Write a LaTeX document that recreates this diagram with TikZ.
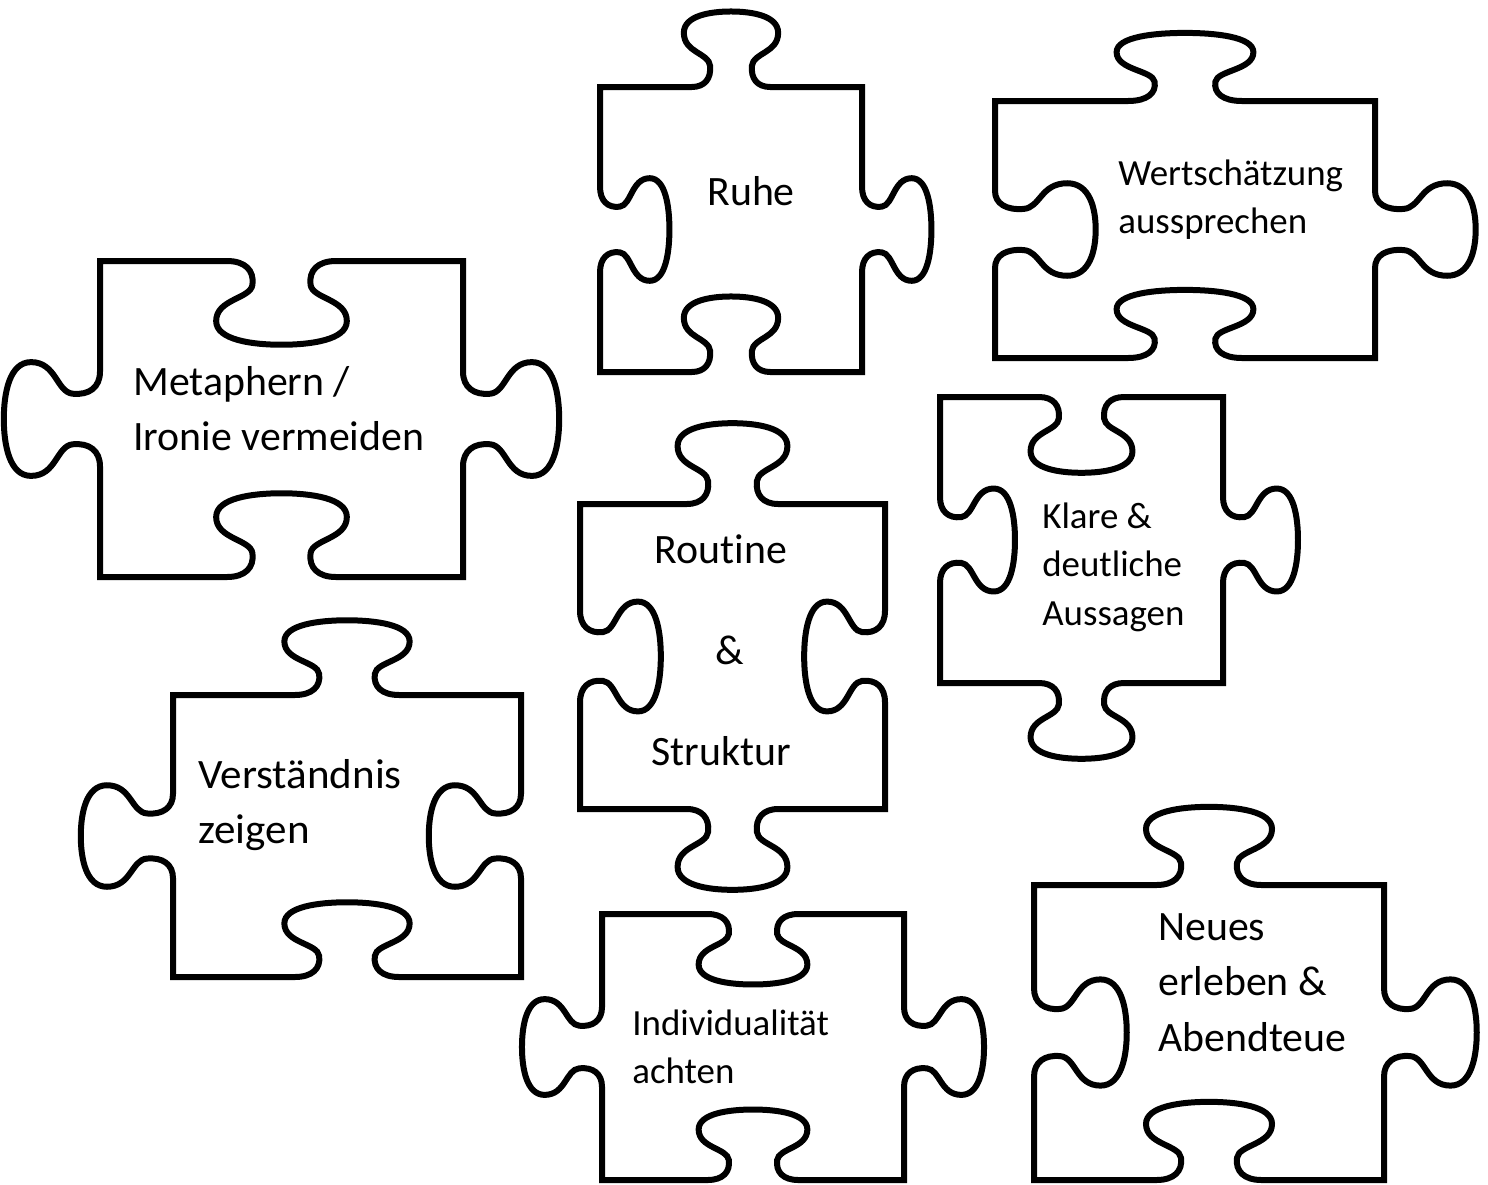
\documentclass[tikz,border=0pt]{standalone}
\usepackage{fontspec}
\setmainfont{Carlito}[Ligatures=NoCommon]
\usepackage{tikz}

\tikzset{
  piece/.style={line width=0.12cm,black},
  bigword/.style={font=\fontsize{23.8}{31.7}\selectfont,inner sep=0pt},
  smallword/.style={font=\fontsize{21}{27.8}\selectfont,inner sep=0pt}
}

\newcommand{\puzzlepiece}[8]{%
  \begin{scope}[shift={(#1,#2)},xscale=#3,yscale=#4]
  \pgfmathsetmacro{\ft}{-(#5)}
  \pgfmathsetmacro{\fr}{#6}
  \pgfmathsetmacro{\fb}{#7}
  \pgfmathsetmacro{\fl}{-(#8)}
  \draw[piece] (0,0) -- (0.35,0)
    .. controls (0.40,0) and (0.425,{0.03*\ft}) .. (0.42,{0.075*\ft})
    .. controls (0.415,{0.12*\ft}) and (0.32,{0.12*\ft}) .. (0.32,{0.19*\ft})
    .. controls (0.32,{0.25*\ft}) and (0.42,{0.265*\ft}) .. (0.5,{0.265*\ft})
    .. controls (0.58,{0.265*\ft}) and (0.68,{0.25*\ft}) .. (0.68,{0.19*\ft})
    .. controls (0.68,{0.12*\ft}) and (0.585,{0.12*\ft}) .. (0.58,{0.075*\ft})
    .. controls (0.575,{0.03*\ft}) and (0.60,0) .. (0.65,0)
    -- (1,0) -- (1,0.35)
    .. controls (1,0.40) and ({1+0.03*\fr},0.425) .. ({1+0.075*\fr},0.42)
    .. controls ({1+0.12*\fr},0.415) and ({1+0.12*\fr},0.32) .. ({1+0.19*\fr},0.32)
    .. controls ({1+0.25*\fr},0.32) and ({1+0.265*\fr},0.42) .. ({1+0.265*\fr},0.5)
    .. controls ({1+0.265*\fr},0.58) and ({1+0.25*\fr},0.68) .. ({1+0.19*\fr},0.68)
    .. controls ({1+0.12*\fr},0.68) and ({1+0.12*\fr},0.585) .. ({1+0.075*\fr},0.58)
    .. controls ({1+0.03*\fr},0.575) and (1,0.60) .. (1,0.65)
    -- (1,1) -- (0.65,1)
    .. controls (0.60,1) and (0.575,{1+0.03*\fb}) .. (0.58,{1+0.075*\fb})
    .. controls (0.585,{1+0.12*\fb}) and (0.68,{1+0.12*\fb}) .. (0.68,{1+0.19*\fb})
    .. controls (0.68,{1+0.25*\fb}) and (0.58,{1+0.265*\fb}) .. (0.5,{1+0.265*\fb})
    .. controls (0.42,{1+0.265*\fb}) and (0.32,{1+0.25*\fb}) .. (0.32,{1+0.19*\fb})
    .. controls (0.32,{1+0.12*\fb}) and (0.415,{1+0.12*\fb}) .. (0.42,{1+0.075*\fb})
    .. controls (0.425,{1+0.03*\fb}) and (0.40,1) .. (0.35,1)
    -- (0,1) -- (0,0.65)
    .. controls (0,0.60) and ({0.03*\fl},0.575) .. ({0.075*\fl},0.58)
    .. controls ({0.12*\fl},0.585) and ({0.12*\fl},0.68) .. ({0.19*\fl},0.68)
    .. controls ({0.25*\fl},0.68) and ({0.265*\fl},0.58) .. ({0.265*\fl},0.5)
    .. controls ({0.265*\fl},0.42) and ({0.25*\fl},0.32) .. ({0.19*\fl},0.32)
    .. controls ({0.12*\fl},0.32) and ({0.12*\fl},0.415) .. ({0.075*\fl},0.42)
    .. controls ({0.03*\fl},0.425) and (0,0.40) .. (0,0.35)
    -- cycle;
  \end{scope}}

\begin{document}
\begin{tikzpicture}[x=0.02cm,y=-0.02cm]
\useasboundingbox (0,0) rectangle (1488,1184);

\puzzlepiece{600}{87}{262}{285}{1}{1}{-1}{-1}
\puzzlepiece{995}{101}{380}{257}{1}{1}{-1}{-1}
\puzzlepiece{100}{261}{363}{316}{-1}{1}{-1}{1}
\puzzlepiece{580}{504}{305}{305}{1}{-1}{1}{-1}
\puzzlepiece{940}{397}{283}{286}{-1}{1}{1}{-1}
\puzzlepiece{173}{695}{348}{282}{1}{-1}{-1}{1}
\puzzlepiece{602}{914}{302}{266}{-1}{1}{-1}{1}
\puzzlepiece{1034}{885}{350}{295}{1}{1}{-1}{-1}

\node[bigword,anchor=base west] (ruhe) at (707,205) {Ruhe};
\node[smallword,anchor=base west] (wert) at (1118,185) {\begin{tabular}[t]{@{}l@{}}Wertschätzung\\aussprechen\end{tabular}};
\node[bigword,anchor=base west] (meta) at (133,395) {\begin{tabular}[t]{@{}l@{}}Metaphern /\\Ironie vermeiden\end{tabular}};
\node[bigword,anchor=base] (routine) at (721,563) {\begin{tabular}[t]{@{}c@{}}Routine\\[26pt]\hspace*{10pt}\&\\[26pt]Struktur\end{tabular}};
\node[smallword,anchor=base west] (klare) at (1042,528) {\begin{tabular}[t]{@{}l@{}}Klare \&\\deutliche\\Aussagen\end{tabular}};
\node[bigword,anchor=base west] (verst) at (198,788) {\scalebox{1.03}[1]{\begin{tabular}[t]{@{}l@{}}Verständnis\\zeigen\end{tabular}}};
\node[smallword,anchor=base west] (indiv) at (632,1035) {\begin{tabular}[t]{@{}l@{}}Individualität\\achten\end{tabular}};
\node[bigword,anchor=base west] (neues) at (1158,940) {\begin{tabular}[t]{@{}l@{}}Neues\\erleben \&\\Abendteue\end{tabular}};
\end{tikzpicture}
\end{document}
